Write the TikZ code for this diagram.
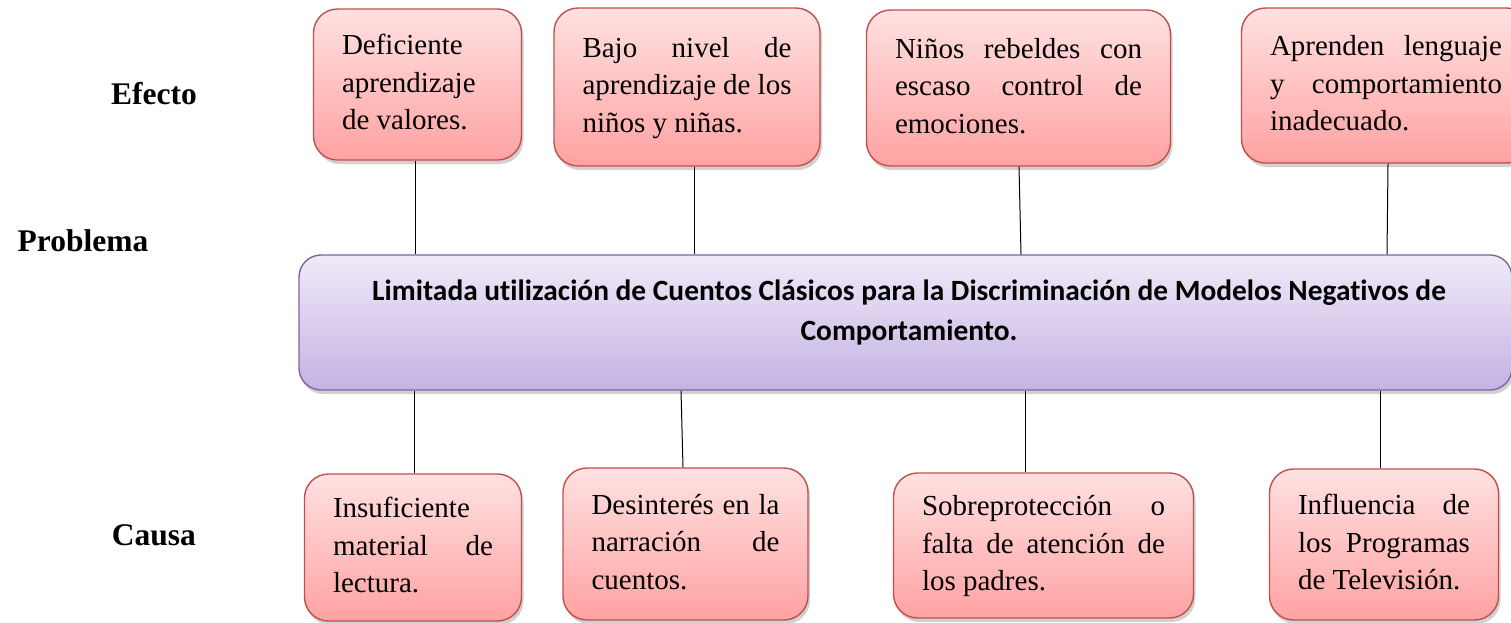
\documentclass[tikz,border=0pt]{standalone}
\usepackage{fontspec}
\setmainfont{Liberation Serif}
\newfontfamily\calibrifont[Ligatures=NoCommon]{Carlito}
\usetikzlibrary{shadows}
\definecolor{boxred}{HTML}{C0504D}
\definecolor{redtop}{HTML}{FFE1E1}
\definecolor{redbot}{HTML}{FFA2A2}
\definecolor{boxviolet}{HTML}{8064A2}
\definecolor{violettop}{HTML}{EFEAF8}
\definecolor{violetbot}{HTML}{C5B2E3}
\tolerance=10000
\hyphenpenalty=10000
\exhyphenpenalty=10000

\begin{document}
\begin{tikzpicture}[x=1pt, y=-1pt,
    redbox/.style={rectangle, rounded corners=24pt, draw=boxred, line width=1.4pt,
        top color=redtop, bottom color=redbot,
        drop shadow={shadow xshift=2pt, shadow yshift=-4pt, fill=black, opacity=0.18},
        align=justify, inner xsep=28.5pt, inner ysep=0pt,
        font=\fontsize{29}{37.5}\selectfont},
    lbl/.style={anchor=base, font=\bfseries\fontsize{31.5}{36}\selectfont}]
        \useasboundingbox (0,0) rectangle (1511,622);
        % row labels
        \node (efecto) [lbl] at (154,104) {Efecto};
        \node (problema) [lbl] at (83,251) {Problema};
        \node (causa) [lbl] at (154,545) {Causa};
        % problem
        \node (P) [rectangle, rounded corners=22pt, draw=boxviolet, line width=1.4pt,
            top color=violettop, bottom color=violetbot,
            drop shadow={shadow xshift=2pt, shadow yshift=-4pt, fill=black, opacity=0.18},
            minimum width=1213pt, minimum height=135pt] at (905.5,322.5) {};
        \node (Ptext) [align=center, font=\calibrifont\bfseries\fontsize{29.4}{40}\selectfont]
            at (909,312) {\strut Limitada utilización de Cuentos Clásicos para la Discriminación de Modelos Negativos de\\Comportamiento.\strut};
        % effects
        \begin{scope}[every node/.style={redbox}]
            \node (E1) [text width=151pt, minimum height=151pt] at (417.5,84.5)
                {\strut Deficiente\linebreak aprendizaje\linebreak de valores.\strut};
            \node (E2) [text width=209pt, minimum height=158pt] at (687,87)
                {\strut Bajo nivel de\linebreak aprendizaje de los\linebreak niños y niñas.\strut};
            \node (E3) [text width=247pt, minimum height=156pt] at (1018.5,88)
                {\strut Niños rebeldes con\linebreak escaso control de\linebreak emociones.\strut};
            \node (E4) [text width=232pt, minimum height=155pt] at (1386,85.5)
                {\strut Aprenden lenguaje\linebreak y comportamiento\linebreak inadecuado.\strut};
        \end{scope}
        % causes
        \begin{scope}[every node/.style={redbox}]
            \node (C1) [text width=160pt, minimum height=147pt] at (413,547.5)
                {\strut Insuficiente\linebreak material de\linebreak lectura.\strut};
            \node (C2) [text width=188pt, minimum height=152pt] at (685.5,544)
                {\strut Desinterés en la\linebreak narración de\linebreak cuentos.\strut};
            \node (C3) [text width=243pt, minimum height=145pt] at (1043.5,545.5)
                {\strut Sobreprotección o\linebreak falta de atención de\linebreak los padres.\strut};
            \node (C4) [text width=172pt, minimum height=151pt] at (1384,544.5)
                {\strut Influencia de\linebreak los Programas\linebreak de Televisión.\strut};
        \end{scope}
        \path [-] ([xshift=-2.5pt]E1.south) edge[draw=black, line width=1pt] ([xshift=-2.5pt]E1.south |- P.north);
        \path [-] ([xshift=7pt]E2.south) edge[draw=black, line width=1pt] ([xshift=7pt]E2.south |- P.north);
        \path [-] ([xshift=0.5pt]E3.south) edge[draw=black, line width=1pt] ([xshift=2.5pt]E3.south |- P.north);
        \path [-] ([xshift=2pt]E4.south) edge[draw=black, line width=1pt] ([xshift=1pt]E4.south |- P.north);
        \path [-] ([xshift=1pt]C1.north) edge[draw=black, line width=1pt] ([xshift=1pt]C1.north |- P.south);
        \path [-] ([xshift=-2.5pt]C2.north) edge[draw=black, line width=1pt] ([xshift=-4.5pt]C2.north |- P.south);
        \path [-] ([xshift=-18.5pt]C3.north) edge[draw=black, line width=1pt] ([xshift=-18.5pt]C3.north |- P.south);
        \path [-] ([xshift=-4pt]C4.north) edge[draw=black, line width=1pt] ([xshift=-4pt]C4.north |- P.south);
    \end{tikzpicture}
\end{document}
